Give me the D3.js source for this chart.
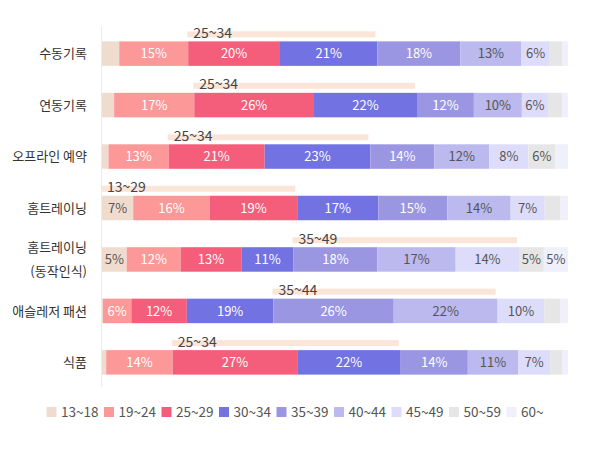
<!DOCTYPE html>
<html>
<head>
<meta charset="utf-8">
<script src="https://cdn.jsdelivr.net/npm/d3@7"></script>
<style>
    html, body { margin: 0; padding: 0; background: #fff; }
    svg text { font-family: "Noto Sans CJK KR", "Noto Sans", sans-serif; }
</style>
</head>
<body>
<div id="chart"></div>
<script>
(function(){
    "use strict";
    //====================================
    //data
    var ageGroups = ['13~18', '19~24', '25~29', '30~34', '35~39', '40~44', '45~49', '50~59', '60~'];
    var ageColors = ['#f0dccf', '#fd9898', '#f45e7a', '#7272e2', '#9a96e2', '#bbb9ee', '#dedcfb', '#e6e6e6', '#f0effc'];
    var darkText = [true, false, false, false, false, true, true, true, true];

    var categories = ['수동기록', '연동기록', '오프라인 예약', '홈트레이닝', '홈트레이닝\n(동작인식)', '애슬레저 패션', '식품'];

    var manualLog   = [3.7, 14.8, 19.7, 20.9, 17.8, 13.1, 6.1, 2.7, 1.2];
    var linkedLog   = [2.6, 17.2, 25.7, 22.1, 12.2, 10.3, 5.6, 3.0, 1.3];
    var offlineBook = [1.4, 12.9, 20.6, 22.7, 13.7, 11.8, 8.4, 5.8, 2.7];
    var homeTrain   = [6.7, 16.4, 18.8, 17.4, 14.8, 13.6, 7.3, 3.4, 1.6];
    var homeMotion  = [5.3, 11.6, 13.0, 11.2, 18.0, 16.8, 13.6, 5.3, 5.2];
    var athleisure  = [0.2, 6.1, 11.9, 18.6, 25.8, 22.3, 10.0, 3.4, 1.7];
    var food        = [0.9, 14.3, 26.7, 22.2, 14.4, 10.8, 6.9, 2.5, 1.3];
    var seriesValues = [manualLog, linkedLog, offlineBook, homeTrain, homeMotion, athleisure, food];

    //main age span per category (first and last age group index)
    var peakLabels = ['25~34', '25~34', '25~34', '13~29', '35~49', '35~44', '25~34'];
    var peakFrom = [2, 2, 2, 0, 4, 4, 2];
    var peakTo   = [3, 3, 3, 2, 6, 5, 3];

    //====================================
    //chart
    var width = 589, height = 454;
    var svg = d3.select('#chart').append('svg')
        .attr('width', width)
        .attr('height', height);

    var x = d3.scaleLinear().domain([0, 100]).range([102, 568]);
    var y = d3.scaleBand().domain(categories)
        .range([28, 388])
        .paddingInner(0.524)
        .paddingOuter(0.26);

    var rows = categories.map(function(c, i){
        var acc = 0;
        var segs = seriesValues[i].map(function(v, j){
            var s = {row: i, idx: j, x0: acc, x1: acc + v, value: v};
            acc += v;
            return s;
        });
        return {cat: c, segs: segs, i: i};
    });

    //axis line
    svg.append('line')
        .attr('x1', 101.5).attr('x2', 101.5)
        .attr('y1', y.range()[0] - 1).attr('y2', y.range()[1] - 1)
        .attr('stroke', '#ebebeb')
        .attr('stroke-width', 1);

    var rowG = svg.selectAll('.row')
        .data(rows)
        .enter().append('g')
        .attr('class', 'row')
        .attr('transform', function(d){ return 'translate(0,' + y(d.cat) + ')'; });

    //peak span highlight
    rowG.append('rect')
        .attr('x', function(d){ return x(d.segs[peakFrom[d.i]].x0) - 1; })
        .attr('y', -10)
        .attr('width', function(d){ return x(d.segs[peakTo[d.i]].x1) - x(d.segs[peakFrom[d.i]].x0) - 1; })
        .attr('height', 6)
        .attr('fill', '#fbe5d8');

    rowG.append('text')
        .attr('x', function(d){ return x(d.segs[peakFrom[d.i]].x0) + 5; })
        .attr('y', -3.5)
        .attr('font-size', 14)
        .attr('fill', '#444')
        .text(function(d){ return peakLabels[d.i]; });

    //segments
    var segG = rowG.selectAll('.seg')
        .data(function(d){ return d.segs; })
        .enter().append('g')
        .attr('class', 'seg');

    segG.append('rect')
        .attr('x', function(d){ return x(d.x0); })
        .attr('y', 0)
        .attr('width', function(d){ return x(d.x1) - x(d.x0); })
        .attr('height', y.bandwidth())
        .attr('fill', function(d){ return ageColors[d.idx]; });

    segG.filter(function(d){ return Math.round(d.value) >= 5; })
        .append('text')
        .attr('x', function(d){ return (x(d.x0) + x(d.x1)) / 2; })
        .attr('y', y.bandwidth() / 2)
        .attr('dy', '0.36em')
        .attr('text-anchor', 'middle')
        .attr('font-size', 13)
        .attr('fill', function(d){ return darkText[d.idx] ? '#555' : '#fff'; })
        .text(function(d){ return Math.round(d.value) + '%'; });

    //category labels
    rowG.append('text')
        .attr('x', 87)
        .attr('text-anchor', 'end')
        .attr('font-size', 13)
        .attr('fill', '#333')
        .each(function(d){
            var lines = d.cat.split('\n');
            var t = d3.select(this);
            var start = y.bandwidth() / 2 - (lines.length - 1) * 12;
            lines.forEach(function(l, k){
                t.append('tspan')
                    .attr('x', 87)
                    .attr('y', start + k * 24)
                    .attr('dy', '0.36em')
                    .text(l);
            });
        });

    //legend
    var legend = svg.append('g').attr('class', 'legend')
        .selectAll('g')
        .data(ageGroups)
        .enter().append('g')
        .attr('transform', function(d, i){ return 'translate(' + (46.5 + i * 57.5) + ',407)'; });

    legend.append('rect')
        .attr('width', 10).attr('height', 10)
        .attr('fill', function(d, i){ return ageColors[i]; });

    legend.append('text')
        .attr('x', 14.5)
        .attr('y', 5)
        .attr('dy', '0.36em')
        .attr('font-size', 13.5)
        .attr('fill', '#555')
        .text(function(d){ return d; });
})();
</script>
</body>
</html>
